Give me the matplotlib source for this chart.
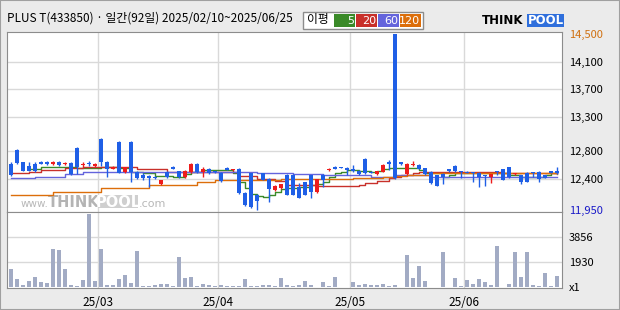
import numpy as np
import pandas as pd
import matplotlib.pyplot as plt
from matplotlib.patches import Rectangle

plt.rcParams['font.family'] = ['Noto Sans CJK KR', 'DejaVu Sans']

# trading days (KRX holidays removed)
holidays = ['2025-03-03', '2025-05-01', '2025-05-05', '2025-05-06', '2025-06-03', '2025-06-06']
dates = pd.bdate_range('2025-02-10', '2025-06-25')
dates = dates[~dates.isin(pd.to_datetime(holidays))]

opens = [12620, 12820, 12640, 12590, 12620, 12650, 12650, 12610, 12650, 12610,
         12630, 12850, 12600, 12620, 12590, 12980, 12650, 12550, 12940, 12500,
         12940, 12500, 12460, 12440, 12430, 12320, 12500, 12580, 12510, 12430,
         12500, 12620, 12500, 12540, 12500, 12490, 12560, 12530, 12550, 12200,
         12480, 12170, 12480, 12400, 12240, 12270, 12460, 12460, 12280, 12350,
         12460, 12210, 12460, 12530, 12580, 12570, 12560, 12550, 12520, 12690,
         12500, 12470, 12500, 12640, 14500, 12640, 12470, 12600, 12600, 12560,
         12500, 12460, 12470, 12540, 12590, 12510, 12500, 12500, 12490, 12450,
         12430, 12500, 12540, 12580, 12470, 12460, 12490, 12500, 12500, 12450,
         12510, 12520]
highs = [12650, 12840, 12650, 12650, 12640, 12660, 12660, 12660, 12660, 12640,
         12640, 12860, 12640, 12660, 12630, 12990, 12660, 12590, 12950, 12580,
         12950, 12510, 12480, 12460, 12440, 12390, 12520, 12590, 12520, 12530,
         12630, 12630, 12580, 12560, 12520, 12500, 12570, 12550, 12560, 12210,
         12490, 12180, 12490, 12410, 12310, 12330, 12470, 12470, 12340, 12360,
         12460, 12400, 12470, 12560, 12590, 12570, 12570, 12600, 12530, 12700,
         12510, 12520, 12610, 12670, 14500, 12650, 12630, 12660, 12610, 12560,
         12510, 12460, 12480, 12550, 12600, 12520, 12510, 12500, 12500, 12450,
         12470, 12520, 12550, 12580, 12490, 12460, 12500, 12500, 12510, 12450,
         12510, 12570]
lows = [12440, 12610, 12510, 12510, 12500, 12610, 12600, 12600, 12590, 12600,
        12460, 12470, 12580, 12590, 12580, 12590, 12430, 12540, 12480, 12490,
        12350, 12400, 12390, 12290, 12400, 12310, 12420, 12540, 12420, 12420,
        12490, 12490, 12430, 12470, 12480, 12360, 12530, 12520, 12180, 12010,
        11980, 11950, 12380, 12070, 12230, 12260, 12170, 12170, 12130, 12170,
        12130, 12200, 12290, 12520, 12550, 12560, 12460, 12500, 12460, 12470,
        12480, 12460, 12500, 12530, 12400, 12600, 12460, 12590, 12540, 12460,
        12330, 12300, 12320, 12500, 12500, 12410, 12480, 12350, 12290, 12300,
        12340, 12460, 12390, 12420, 12460, 12330, 12360, 12430, 12360, 12410,
        12490, 12470]
closes = [12450, 12630, 12520, 12520, 12510, 12620, 12610, 12650, 12600, 12630,
          12470, 12570, 12610, 12620, 12620, 12640, 12550, 12580, 12490, 12570,
          12500, 12410, 12420, 12410, 12410, 12390, 12430, 12550, 12430, 12520,
          12620, 12500, 12540, 12480, 12500, 12370, 12530, 12540, 12190, 12020,
          11990, 12080, 12390, 12260, 12300, 12330, 12170, 12170, 12130, 12170,
          12210, 12400, 12390, 12540, 12550, 12560, 12530, 12510, 12470, 12480,
          12490, 12520, 12600, 12620, 12410, 12610, 12620, 12610, 12550, 12470,
          12340, 12300, 12430, 12510, 12510, 12500, 12490, 12490, 12430, 12440,
          12470, 12500, 12390, 12430, 12490, 12360, 12360, 12490, 12400, 12410,
          12490, 12490]
volumes = [1400, 640, 180, 480, 790, 410, 330, 2920, 2850, 1400,
           180, 100, 560, 5590, 480, 2920, 180, 180, 640, 940,
           330, 2770, 80, 80, 180, 250, 250, 100, 2310, 710,
           790, 100, 250, 180, 80, 180, 100, 100, 100, 640,
           100, 100, 180, 180, 100, 710, 180, 100, 180, 510,
           200, 50, 430, 130, 810, 50, 50, 430, 200, 280,
           200, 200, 280, 130, 200, 50, 2490, 740, 1650, 510,
           50, 50, 2720, 50, 740, 130, 580, 280, 660, 430,
           200, 3180, 50, 280, 2720, 810, 2720, 200, 130, 1120,
           130, 890]

# moving averages (index, price) at step changes
ma5_idx = [3, 5, 11, 15, 18, 20, 22, 24, 27, 29, 30, 32, 37, 38, 39, 40, 41, 42, 43, 44,
           45, 46, 48, 50, 51, 52, 53, 54, 55, 56, 58, 60, 61, 62, 63, 68, 69, 72, 73, 74,
           76, 83, 85, 89, 90, 91]
ma5_val = [12540, 12573, 12563, 12578, 12554, 12505, 12482, 12443, 12433, 12467, 12505, 12530, 12482, 12360, 12264, 12182, 12153, 12143, 12167, 12215,
           12254, 12273, 12288, 12312, 12327, 12360, 12433, 12482, 12505, 12530, 12520, 12505, 12520, 12540, 12554, 12530, 12482, 12424, 12457, 12482,
           12490, 12457, 12433, 12457, 12490, 12490]
ma20_idx = [0, 3, 5, 9, 12, 21, 26, 32, 38, 41, 44, 46, 51, 58, 59, 61, 63, 64, 65, 67, 68, 75, 82, 91]
ma20_val = [12482, 12496, 12530, 12563, 12578, 12540, 12505, 12496, 12443, 12404, 12375, 12312, 12293, 12312, 12337, 12375, 12409, 12424, 12457, 12482, 12505, 12496, 12482, 12482]
ma60_idx = [0, 4, 9, 12, 41, 47, 52, 60, 64, 70, 91]
ma60_val = [12409, 12433, 12467, 12496, 12482, 12467, 12453, 12433, 12453, 12433, 12433]
ma120_idx = [0, 7, 15, 23, 31, 34, 45, 57, 62, 64, 66, 70, 80, 91]
ma120_val = [12163, 12211, 12264, 12308, 12356, 12385, 12395, 12410, 12433, 12443, 12457, 12482, 12482, 12472]

price_grid = [14100, 13700, 13300, 12800, 12400]
price_max, price_min = 14500, 11950
vol_grid = [3856, 1930]
month_labels = ['25/03', '25/04', '25/05', '25/06']

c_up = '#ee1c1c'
c_dn = '#1f5fe6'
c_ma = ['#3a8a28', '#c8302a', '#6464dc', '#dc6e0a']
grid_c = '#d9d9d9'
edge_c = '#8c8c8c'

W, H = 620, 310
fx = lambda px: px / W
fy = lambda py: 1 - py / H

fig = plt.figure(figsize=(6.2, 3.1), dpi=100, facecolor='#ebebeb')
ax = fig.add_axes([fx(7), fy(212), fx(555), 180 / H])
axv = fig.add_axes([fx(7), fy(288), fx(555), 76 / H])

x = np.arange(len(closes))
o = np.array(opens); c = np.array(closes)
up = c > o
col = np.where(up, c_up, c_dn)
body_lo = np.minimum(o, c)
body_h = np.maximum(np.abs(c - o), 14)

month_pos = [i - 0.5 for i in range(1, len(dates)) if dates[i].month != dates[i - 1].month]

for a in (ax, axv):
    a.set_xlim(-0.67, 91.8)
    for m in month_pos:
        a.axvline(m, color=grid_c, lw=1, zorder=0)
    for s in a.spines.values():
        s.set_color(edge_c)
    a.tick_params(length=0, colors='black', labelsize=8)
    a.yaxis.tick_right()

# price panel
ax.set_ylim(11921, 14529)
for g in price_grid:
    ax.axhline(g, color=grid_c, lw=1, zorder=0)

# watermark (under the marks)
wm = dict(transform=fig.transFigure, family='DejaVu Sans', va='baseline', zorder=0.5)
ax.text(fx(21), fy(207), 'www.', fontsize=7.5, color='#b8b8b8', **wm)
ax.text(fx(48), fy(207), 'THINK', fontsize=10.5, fontweight='bold', color='#b4b4b4', **wm)
ax.add_patch(Rectangle((fx(98), fy(208)), fx(40), 13 / H, transform=fig.transFigure,
                       facecolor='#cfcfcf', edgecolor='none', zorder=0.5))
ax.text(fx(118), fy(207), 'POOL', fontsize=10.5, fontweight='bold', color='white',
        ha='center', **wm)
ax.text(fx(139), fy(207), '.com', fontsize=8, color='#b8b8b8', **wm)

ax.vlines(x, lows, highs, color=col, lw=1, zorder=3)
ax.bar(x, body_h, bottom=body_lo, width=0.72, color=col, zorder=4)

for idx, val, cc in [(ma5_idx, ma5_val, c_ma[0]), (ma20_idx, ma20_val, c_ma[1]),
                     (ma60_idx, ma60_val, c_ma[2]), (ma120_idx, ma120_val, c_ma[3])]:
    ax.plot(idx, val, drawstyle='steps-post', color=cc, lw=1, zorder=2)

ax.set_yticks([price_max] + price_grid + [price_min])
ax.set_yticklabels([f'{v:,}' for v in [price_max] + price_grid + [price_min]])
ax.tick_params(axis='y', pad=5)
tl = ax.get_yticklabels()
tl[0].set_color('#d07010')
tl[-1].set_color('#1a1ac8')
ax.set_xticks([])

# volume panel
axv.set_ylim(-40, 5740)
for g in vol_grid:
    axv.axhline(g, color=grid_c, lw=1, zorder=0)
axv.bar(x, volumes, width=0.72, color='#a2abc4', zorder=2)
axv.set_yticks(vol_grid + [0])
axv.set_yticklabels([str(v) for v in vol_grid] + ['x1'])
axv.tick_params(axis='y', pad=5)
axv.set_xticks(month_pos)
axv.set_xticklabels(month_labels, fontsize=8.5)
axv.tick_params(axis='x', pad=6)

# header
fig.text(fx(7), fy(18), 'PLUS T(433850) · 일간(92일) 2025/02/10~2025/06/25',
         fontsize=8.5, va='center', ha='left')
fig.patches.append(Rectangle((fx(303), fy(29)), fx(120), 17 / H, transform=fig.transFigure,
                             facecolor='white', edgecolor='#8c8c8c', lw=1))
fig.text(fx(307), fy(20), '이평', fontsize=8.5, va='center', ha='left')
for k, (lab, cc) in enumerate(zip(['5', '20', '60', '120'], c_ma)):
    x0 = 334 + k * 22
    fig.patches.append(Rectangle((fx(x0), fy(27)), fx(21), 13 / H, transform=fig.transFigure,
                                 facecolor=cc, edgecolor='none'))
    fig.text(fx(x0 + 20), fy(20.5), lab, fontsize=8, color='white', va='center', ha='right',
             family='DejaVu Sans')

# logo
fig.text(fx(482), fy(21), 'THINK', fontsize=8.5, fontweight='bold', va='center', ha='left',
         family='DejaVu Sans')
fig.patches.append(Rectangle((fx(527), fy(27)), fx(37), 13 / H, transform=fig.transFigure,
                             facecolor='#2f6fdc', edgecolor='none'))
fig.text(fx(545.5), fy(21), 'POOL', fontsize=8.5, fontweight='bold', color='white',
         va='center', ha='center', family='DejaVu Sans')

# outer frame
fig.patches.append(Rectangle((0, 0), 1, 1, transform=fig.transFigure, fill=False,
                             edgecolor='#a0a0a0', lw=1.5))

fig.savefig('out.png', dpi=100, facecolor=fig.get_facecolor())
